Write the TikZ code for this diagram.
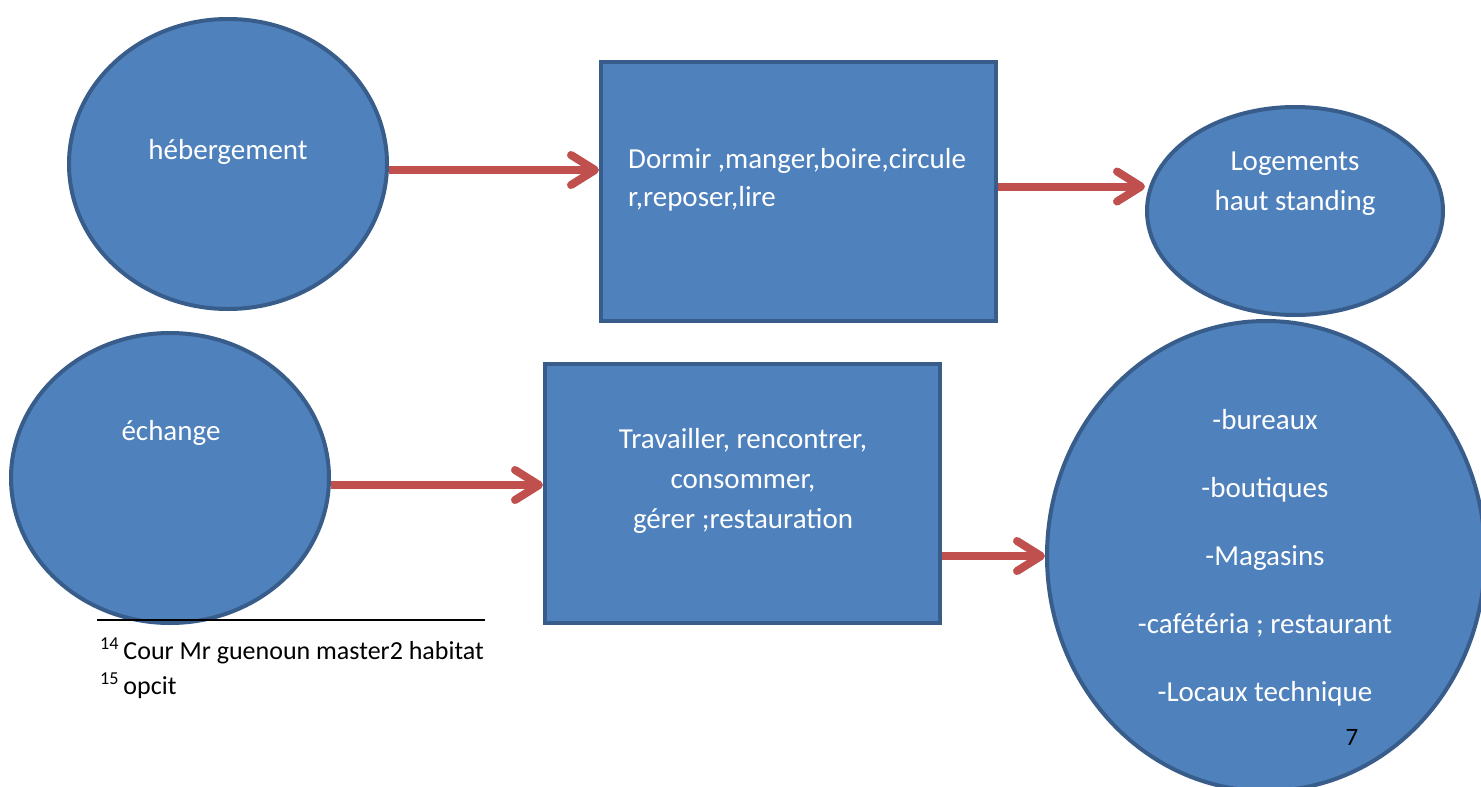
\documentclass[tikz,border=0pt]{standalone}
\usepackage{fontspec}
\setmainfont{Carlito}
\usetikzlibrary{arrows.meta,shapes.geometric}

\definecolor{bulleblue}{HTML}{4F81BD}
\definecolor{bulleedge}{HTML}{385D8A}
\definecolor{flechered}{HTML}{C0504D}

\tikzset{
  bulle/.style={ellipse, draw=bulleedge, fill=bulleblue, line width=4pt, inner sep=0pt},
  cadre/.style={rectangle, draw=bulleedge, fill=bulleblue, line width=4pt, inner sep=0pt},
  texte/.style={text=white, inner sep=0pt, font=\fontsize{29}{40}\selectfont},
  fleche/.style={draw=flechered, line width=8pt,
    -{Straight Barb[length=24pt,width=30pt,line cap=round,line join=round]},
    preaction={draw=black, opacity=0.12, transform canvas={xshift=2pt,yshift=-3pt}}},
}

\begin{document}
\begin{tikzpicture}[x=1pt, y=-1pt]

  % fond blanc + canvas 1:1
  \fill[white] (0,0) rectangle (1481,787);

  %% ════ rangée du haut ════
  \node[bulle, minimum width=318pt, minimum height=290pt] (heb) at (228,164) {};
  \node[cadre, minimum width=395pt, minimum height=259pt] (dormir) at (798.5,191.5) {};
  \node[bulle, minimum width=296pt, minimum height=208pt] (logement) at (1295,211) {};

  %% ════ rangée du bas ════
  \node[bulle, minimum width=318pt, minimum height=290pt] (echange) at (170,478) {};
  \node[cadre, minimum width=395pt, minimum height=259pt] (travail) at (742.5,493.5) {};
  \node[bulle, minimum width=438pt, minimum height=470pt] (lieux) at (1266,556) {};

  %% ════ textes ════
  \node[texte] (heb-txt) at (228,152) {hébergement};
  \node[texte, anchor=west, align=left, font=\fontsize{29}{38}\selectfont] (dormir-txt) at (628,180)
    {Dormir ,manger,boire,circule\\r,reposer,lire};
  \node[texte, align=center] (logement-txt) at (1295,184) {Logements\\haut standing};
  \node[texte] (echange-txt) at (171,433) {échange};
  \node[texte, align=center] (travail-txt) at (743,481)
    {Travailler, rencontrer,\\consommer,\\gérer ;restauration};
  \node[texte, align=center, font=\fontsize{29}{68}\selectfont] (lieux-txt) at (1265,558)
    {-bureaux\\-boutiques\\-Magasins\\-cafétéria ; restaurant\\-Locaux technique};

  %% ════ flèches ════
  \coordinate (heb-out) at ([yshift=-6pt]heb.east);
  \coordinate (echange-out) at ([yshift=-7pt]echange.east);
  \coordinate (dormir-out) at ([yshift=5pt]dormir.east);
  \draw[fleche] (heb-out) -- (heb-out -| dormir.west);
  \draw[fleche] (dormir-out) -- (dormir-out -| logement.west);
  \draw[fleche] (echange-out) -- (echange-out -| travail.west);
  \draw[fleche] (lieux.west -| travail.east) -- (lieux.west);

  %% ════ notes de bas de page ════
  \draw[line width=1.5pt] (97,620) -- (485,620);
  \node[anchor=base west, inner sep=0pt, font=\fontsize{26}{34}\selectfont] (note14) at (100,659)
    {\textsuperscript{14}\,Cour Mr guenoun master2 habitat};
  \node[anchor=base west, inner sep=0pt, font=\fontsize{26}{34}\selectfont] (note15) at (100,694)
    {\textsuperscript{15}\,opcit};
  \node[inner sep=0pt, font=\fontsize{25}{30}\selectfont] (page) at (1352,737) {7};

  \pgfresetboundingbox
  \path[use as bounding box] (0,0) rectangle (1481,787);
\end{tikzpicture}
\end{document}
